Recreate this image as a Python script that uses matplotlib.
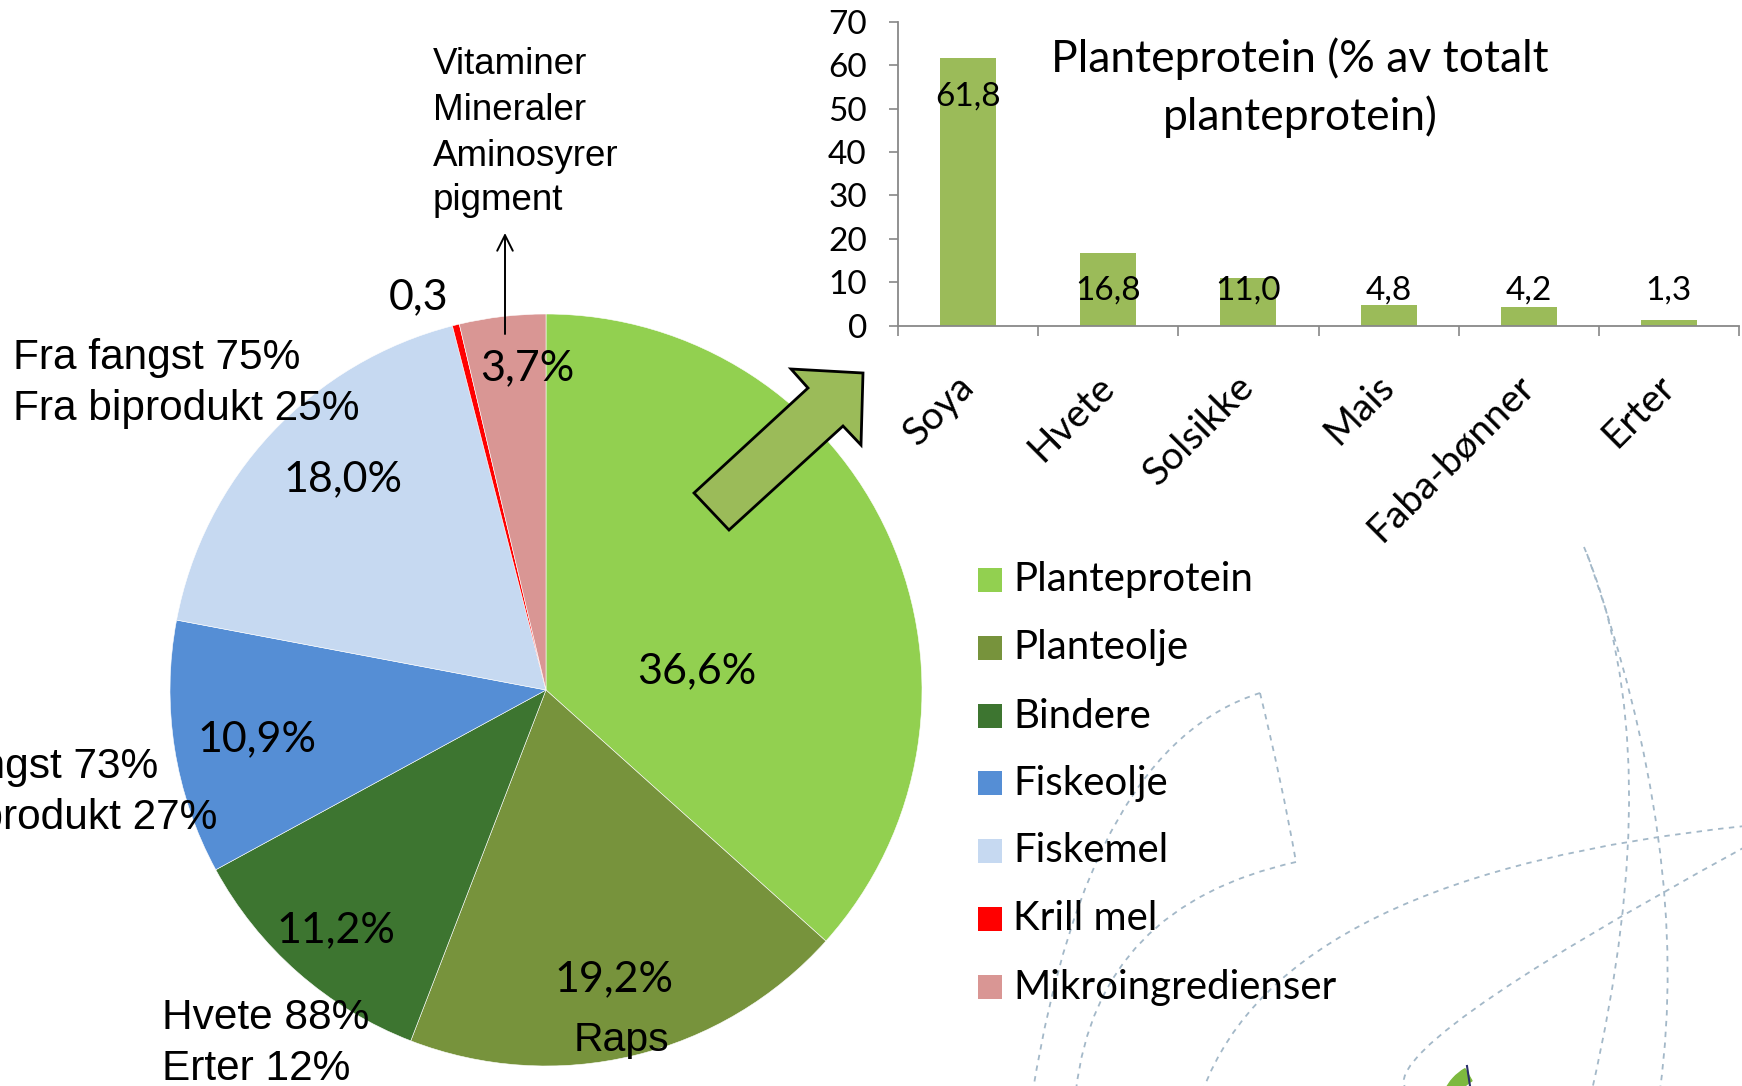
import numpy as np
import matplotlib
matplotlib.use("Agg")
import matplotlib.pyplot as plt
from matplotlib.patches import Polygon, Rectangle, PathPatch, Wedge
from matplotlib.path import Path

W, H = 1742, 1086

# pie: share of feed ingredients (%)
components = ["Planteprotein", "Planteolje", "Bindere", "Fiskeolje",
              "Fiskemel", "Krill mel", "Mikroingredienser"]
shares = [36.6, 19.2, 11.2, 10.9, 18.0, 0.3, 3.7]
colours = ["#92D050", "#77933C", "#3D7530", "#558ED5",
           "#C6D9F1", "#FF0000", "#D99694"]

# bar: plant protein sources (% of total plant protein)
crops = ["Soya", "Hvete", "Solsikke", "Mais", "Faba-bønner", "Erter"]
protein_share = [61.8, 16.8, 11.0, 4.8, 4.2, 1.3]
y_ticks = [0, 10, 20, 30, 40, 50, 60, 70]
bar_colour = "#9BBB59"

CAL = "Lato"              # stand-in for Calibri
ARI = "Liberation Sans"   # stand-in for Arial

fig = plt.figure(figsize=(W / 100, H / 100), dpi=100)


def fig_box(x0, y0, x1, y1):
    # pixel box (y from top) -> figure fraction rect
    return [x0 / W, 1 - y1 / H, (x1 - x0) / W, (y1 - y0) / H]


# background watermark (dashed arcs)
bg = fig.add_axes([0, 0, 1, 1], zorder=-5)
bg.set_xlim(0, W)
bg.set_ylim(H, 0)
bg.axis("off")
arcs = [
    [(1584, 547), (1629, 784), (1592, 1090)],
    [(1587, 554), (1658, 836), (1660, 1090)],
    [(1260, 693), (1280, 780), (1296, 862)],
    [(1296, 862), (1142, 941), (1076, 1090)],
    [(1260, 693), (1118, 819), (1033, 1090)],
    [(1745, 826), (1379, 916), (1203, 1090)],
    [(1745, 847), (1473, 1010), (1407, 1090)],
]
for p0, pm, p2 in arcs:
    p0, pm, p2 = np.array(p0), np.array(pm), np.array(p2)
    ctrl = 2 * pm - (p0 + p2) / 2
    path = Path([p0, ctrl, p2], [Path.MOVETO, Path.CURVE3, Path.CURVE3])
    bg.add_patch(PathPatch(path, fill=False, edgecolor="#A3B8C8",
                           linestyle=(0, (3, 3)), linewidth=1.3))
# corner of a logo peeking in at the bottom
bg.add_patch(Wedge((1490, 1112), 50, 205, 240, width=14, color="#7DB93F"))
bg.plot([1467, 1470], [1066, 1086], color="#2B2F6B", linewidth=1.5)

# pie chart
cx, cy, r = 546, 690, 376
ax_pie = fig.add_axes(fig_box(cx - r, cy - r, cx + r, cy + r))
ax_pie.pie(shares, colors=colours, startangle=90, counterclock=False,
           radius=1, wedgeprops=dict(edgecolor="white", linewidth=0.4))
ax_pie.set_xlim(-1, 1)
ax_pie.set_ylim(-1, 1)
ax_pie.set_aspect("equal")
ax_pie.axis("off")

label_xy = [(0.40, 0.05), (0.18, -0.77), (-0.56, -0.64), (-0.77, -0.13),
            (-0.54, 0.56), (-0.34, 1.045), (-0.05, 0.855)]
for name, v, (lx, ly) in zip(components, shares, label_xy):
    txt = f"{v:.1f}".replace(".", ",")
    if name != "Krill mel":
        txt += "%"
    ax_pie.text(lx, ly, txt, ha="center", va="center", fontsize=31,
                family=CAL, color="black", clip_on=False)
ax_pie.text(0.20, -0.93, "Raps", ha="center", va="center", fontsize=29.5,
            family=ARI, clip_on=False)

# bar chart
ax_bar = fig.add_axes(fig_box(898, 22, 1739, 325.5))
x = np.arange(len(crops))
ax_bar.bar(x, protein_share, width=0.4, color=bar_colour)
for xi, v in zip(x, protein_share):
    ly = v - 9 if v > 20 else 8
    ax_bar.text(xi, ly, f"{v:.1f}".replace(".", ","), ha="center",
                va="center", fontsize=24, family=CAL)
ax_bar.set_xlim(-0.5, len(crops) - 0.5)
ax_bar.set_ylim(0, 70)
ax_bar.set_yticks(y_ticks)
ax_bar.set_yticklabels([str(t) for t in y_ticks], family=CAL, fontsize=24)
ax_bar.set_xticks(x)
ax_bar.set_xticklabels(crops, family=CAL, fontsize=28, rotation=45,
                       ha="right", va="center", rotation_mode="anchor")
ax_bar.set_xticks(np.arange(-0.5, len(crops), 1), minor=True)
ax_bar.tick_params(axis="x", which="major", length=0, pad=40)
ax_bar.tick_params(axis="x", which="minor", length=7, color="#888888", width=1.2)
ax_bar.tick_params(axis="y", length=6.5, color="#888888", width=1.2, pad=16)
for s in ["top", "right"]:
    ax_bar.spines[s].set_visible(False)
for s in ["left", "bottom"]:
    ax_bar.spines[s].set_color("#888888")
    ax_bar.spines[s].set_linewidth(1.3)
ax_bar.patch.set_alpha(0)

# overlay: annotations, big arrow, legend
ov = fig.add_axes([0, 0, 1, 1], zorder=10)
ov.set_xlim(0, W)
ov.set_ylim(H, 0)
ov.axis("off")
ov.patch.set_alpha(0)

ov.text(1300, 59, "Planteprotein (% av totalt", ha="center", va="center",
        fontsize=32, family=CAL)
ov.text(1300, 117, "planteprotein)", ha="center", va="center",
        fontsize=32, family=CAL)

# side notes; the Fiskeolje note runs off the left edge as in the original
notes = [
    (13, [358, 409], ["Fra fangst 75%", "Fra biprodukt 25%"], 30.5),
    (-129, [767, 818], ["Fra fangst 73%", "Fra biprodukt 27%"], 30.5),
    (162, [1018, 1069], ["Hvete 88%", "Erter 12%"], 30.5),
    (433, [64, 110, 156, 201], ["Vitaminer", "Mineraler", "Aminosyrer", "pigment"], 26.5),
]
for nx, ys, lines, fs in notes:
    for ny, line in zip(ys, lines):
        ov.text(nx, ny, line, ha="left", va="center", fontsize=fs,
                family=ARI, clip_on=False)

ov.annotate("", xy=(505, 233), xytext=(505, 334),
            arrowprops=dict(arrowstyle="->", color="black", lw=1.4,
                            mutation_scale=28, shrinkA=0, shrinkB=0))

block = [(694, 493), (808, 388), (791, 369), (863, 373), (861, 445),
         (843, 426), (729, 530)]
ov.add_patch(Polygon(block, closed=True, facecolor=bar_colour,
                     edgecolor="black", linewidth=2, joinstyle="miter"))

leg_y = [580, 648, 716, 783, 851, 919, 987]
for name, col, ly in zip(components, colours, leg_y):
    ov.add_patch(Rectangle((978, ly - 12), 24, 24, facecolor=col,
                           edgecolor="none"))
    ov.text(1013, ly, name, ha="left", va="center", fontsize=29, family=CAL)

fig.savefig("out.png", dpi=100)
